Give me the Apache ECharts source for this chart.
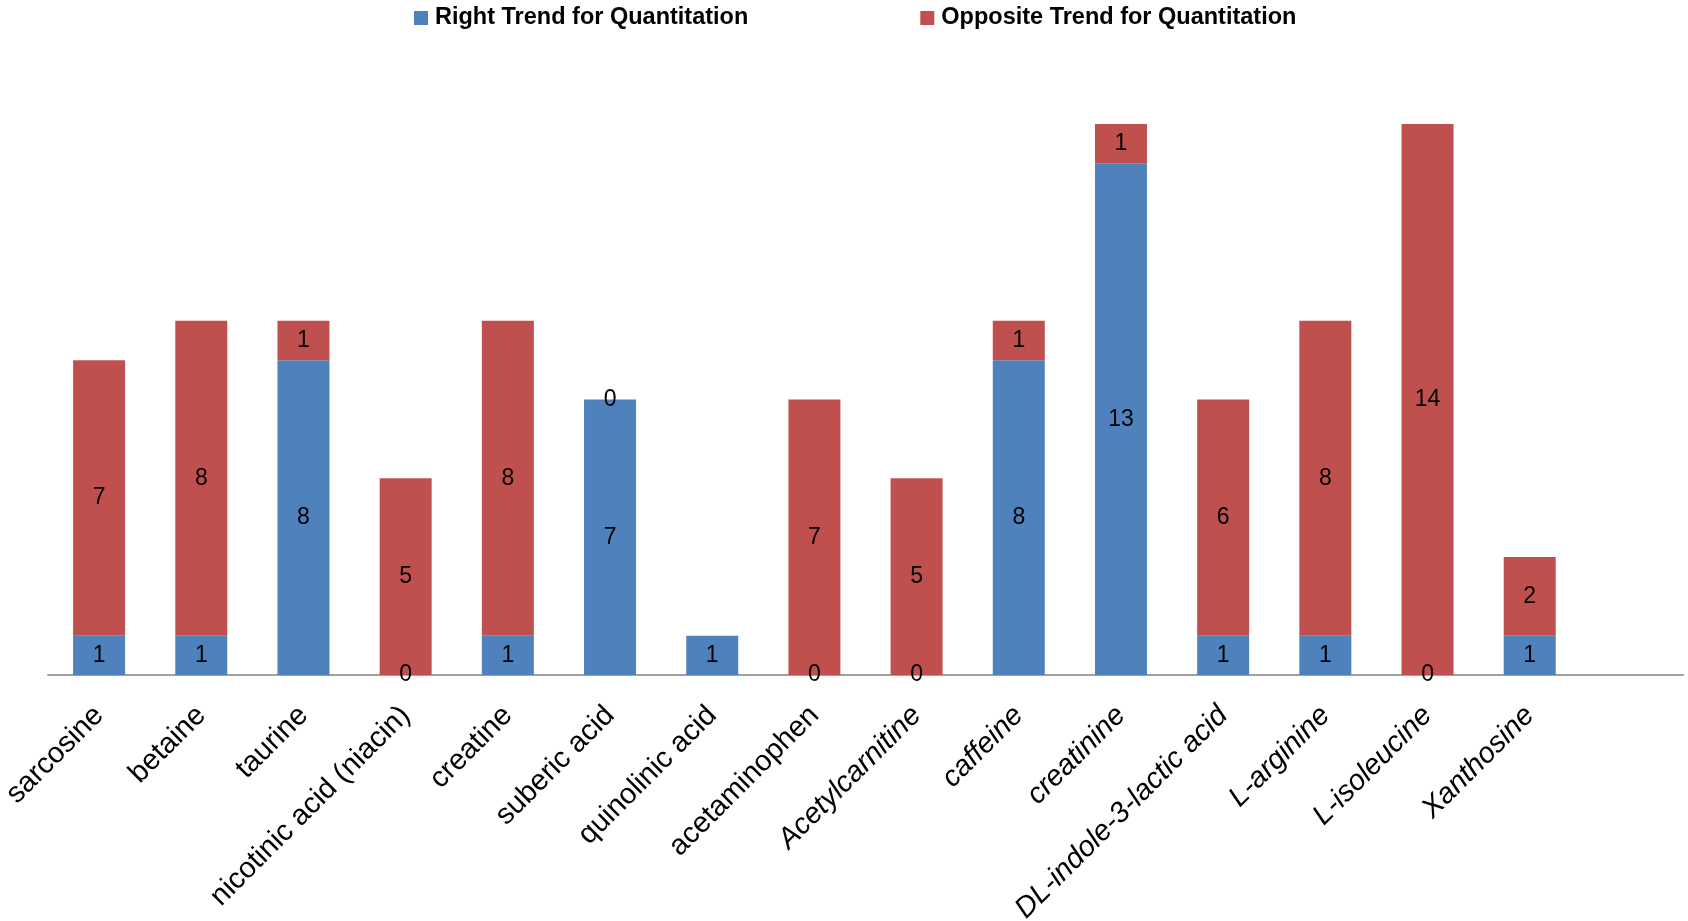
<!DOCTYPE html>
<html>
<head>
<meta charset="utf-8">
<title>Quantitation trends by metabolite</title>
<script src="https://cdn.jsdelivr.net/npm/echarts@6/dist/echarts.min.js"></script>
<style>
  html, body { margin: 0; padding: 0; background: #ffffff; }
  #chart { width: 1688px; height: 921px; }
</style>
</head>
<body>
<div id="chart"></div>
<script>
// Metabolites on the x axis (the trailing blank slot keeps the axis running past the last bar)
const categories = [
  'sarcosine', 'betaine', 'taurine', 'nicotinic acid (niacin)', 'creatine',
  'suberic acid', 'quinolinic acid', 'acetaminophen', 'Acetylcarnitine', 'caffeine',
  'creatinine', 'DL-indole-3-lactic acid', 'L-arginine', 'L-isoleucine', 'Xanthosine', ''
];
// Labels from this index onward are set in italics
const italicFrom = 8;

const rightTrend    = [1, 1, 8, 0, 1, 7, 1, 0, 0, 8, 13, 1, 1, 0, 1, null];
const oppositeTrend = [7, 8, 1, 5, 8, 0, null, 7, 5, 1, 1, 6, 8, 14, 2, null];

const seriesNames = ['Right Trend for Quantitation', 'Opposite Trend for Quantitation'];
const colors = ['#4F81BD', '#C0504D'];

const FONT = '"Liberation Sans", Arial, sans-serif';

const axisCategories = categories.map((name, i) => ({
  value: name,
  textStyle: { fontStyle: i >= italicFrom ? 'italic' : 'normal' }
}));

const segmentLabel = {
  show: true,
  position: 'inside',
  color: '#000000',
  fontFamily: FONT,
  fontSize: 23,
  formatter: p => (p.value === null || p.value === undefined) ? '' : String(p.value)
};

const chart = echarts.init(document.getElementById('chart'), null, { renderer: 'canvas' });
chart.setOption({
  animation: false,
  backgroundColor: '#ffffff',
  color: colors,
  legend: {
    data: seriesNames,
    top: 1,
    left: 409,
    icon: 'rect',
    itemWidth: 14,
    itemHeight: 14,
    itemGap: 172,
    textStyle: { fontFamily: FONT, fontWeight: 'bold', fontSize: 23.5, color: '#000000', padding: [0, 0, 0, 2] }
  },
  grid: { left: 48, right: 5, top: 124, bottom: 246, containLabel: false, outerBoundsMode: 'none' },
  xAxis: {
    type: 'category',
    data: axisCategories,
    axisLine: { show: true, lineStyle: { color: '#A0A0A0', width: 2 } },
    axisTick: { show: false },
    axisLabel: {
      interval: 0,
      rotate: 45,
      margin: 36,
      color: '#000000',
      fontFamily: FONT,
      fontSize: 29
    }
  },
  yAxis: {
    type: 'value',
    min: 0,
    max: 14,
    show: false,
    splitLine: { show: false }
  },
  series: [
    {
      name: seriesNames[0],
      type: 'bar',
      stack: 'total',
      barWidth: 52,
      data: rightTrend,
      itemStyle: { color: colors[0] },
      label: segmentLabel
    },
    {
      name: seriesNames[1],
      type: 'bar',
      stack: 'total',
      barWidth: 52,
      data: oppositeTrend,
      itemStyle: { color: colors[1] },
      label: segmentLabel
    }
  ]
});
</script>
</body>
</html>
